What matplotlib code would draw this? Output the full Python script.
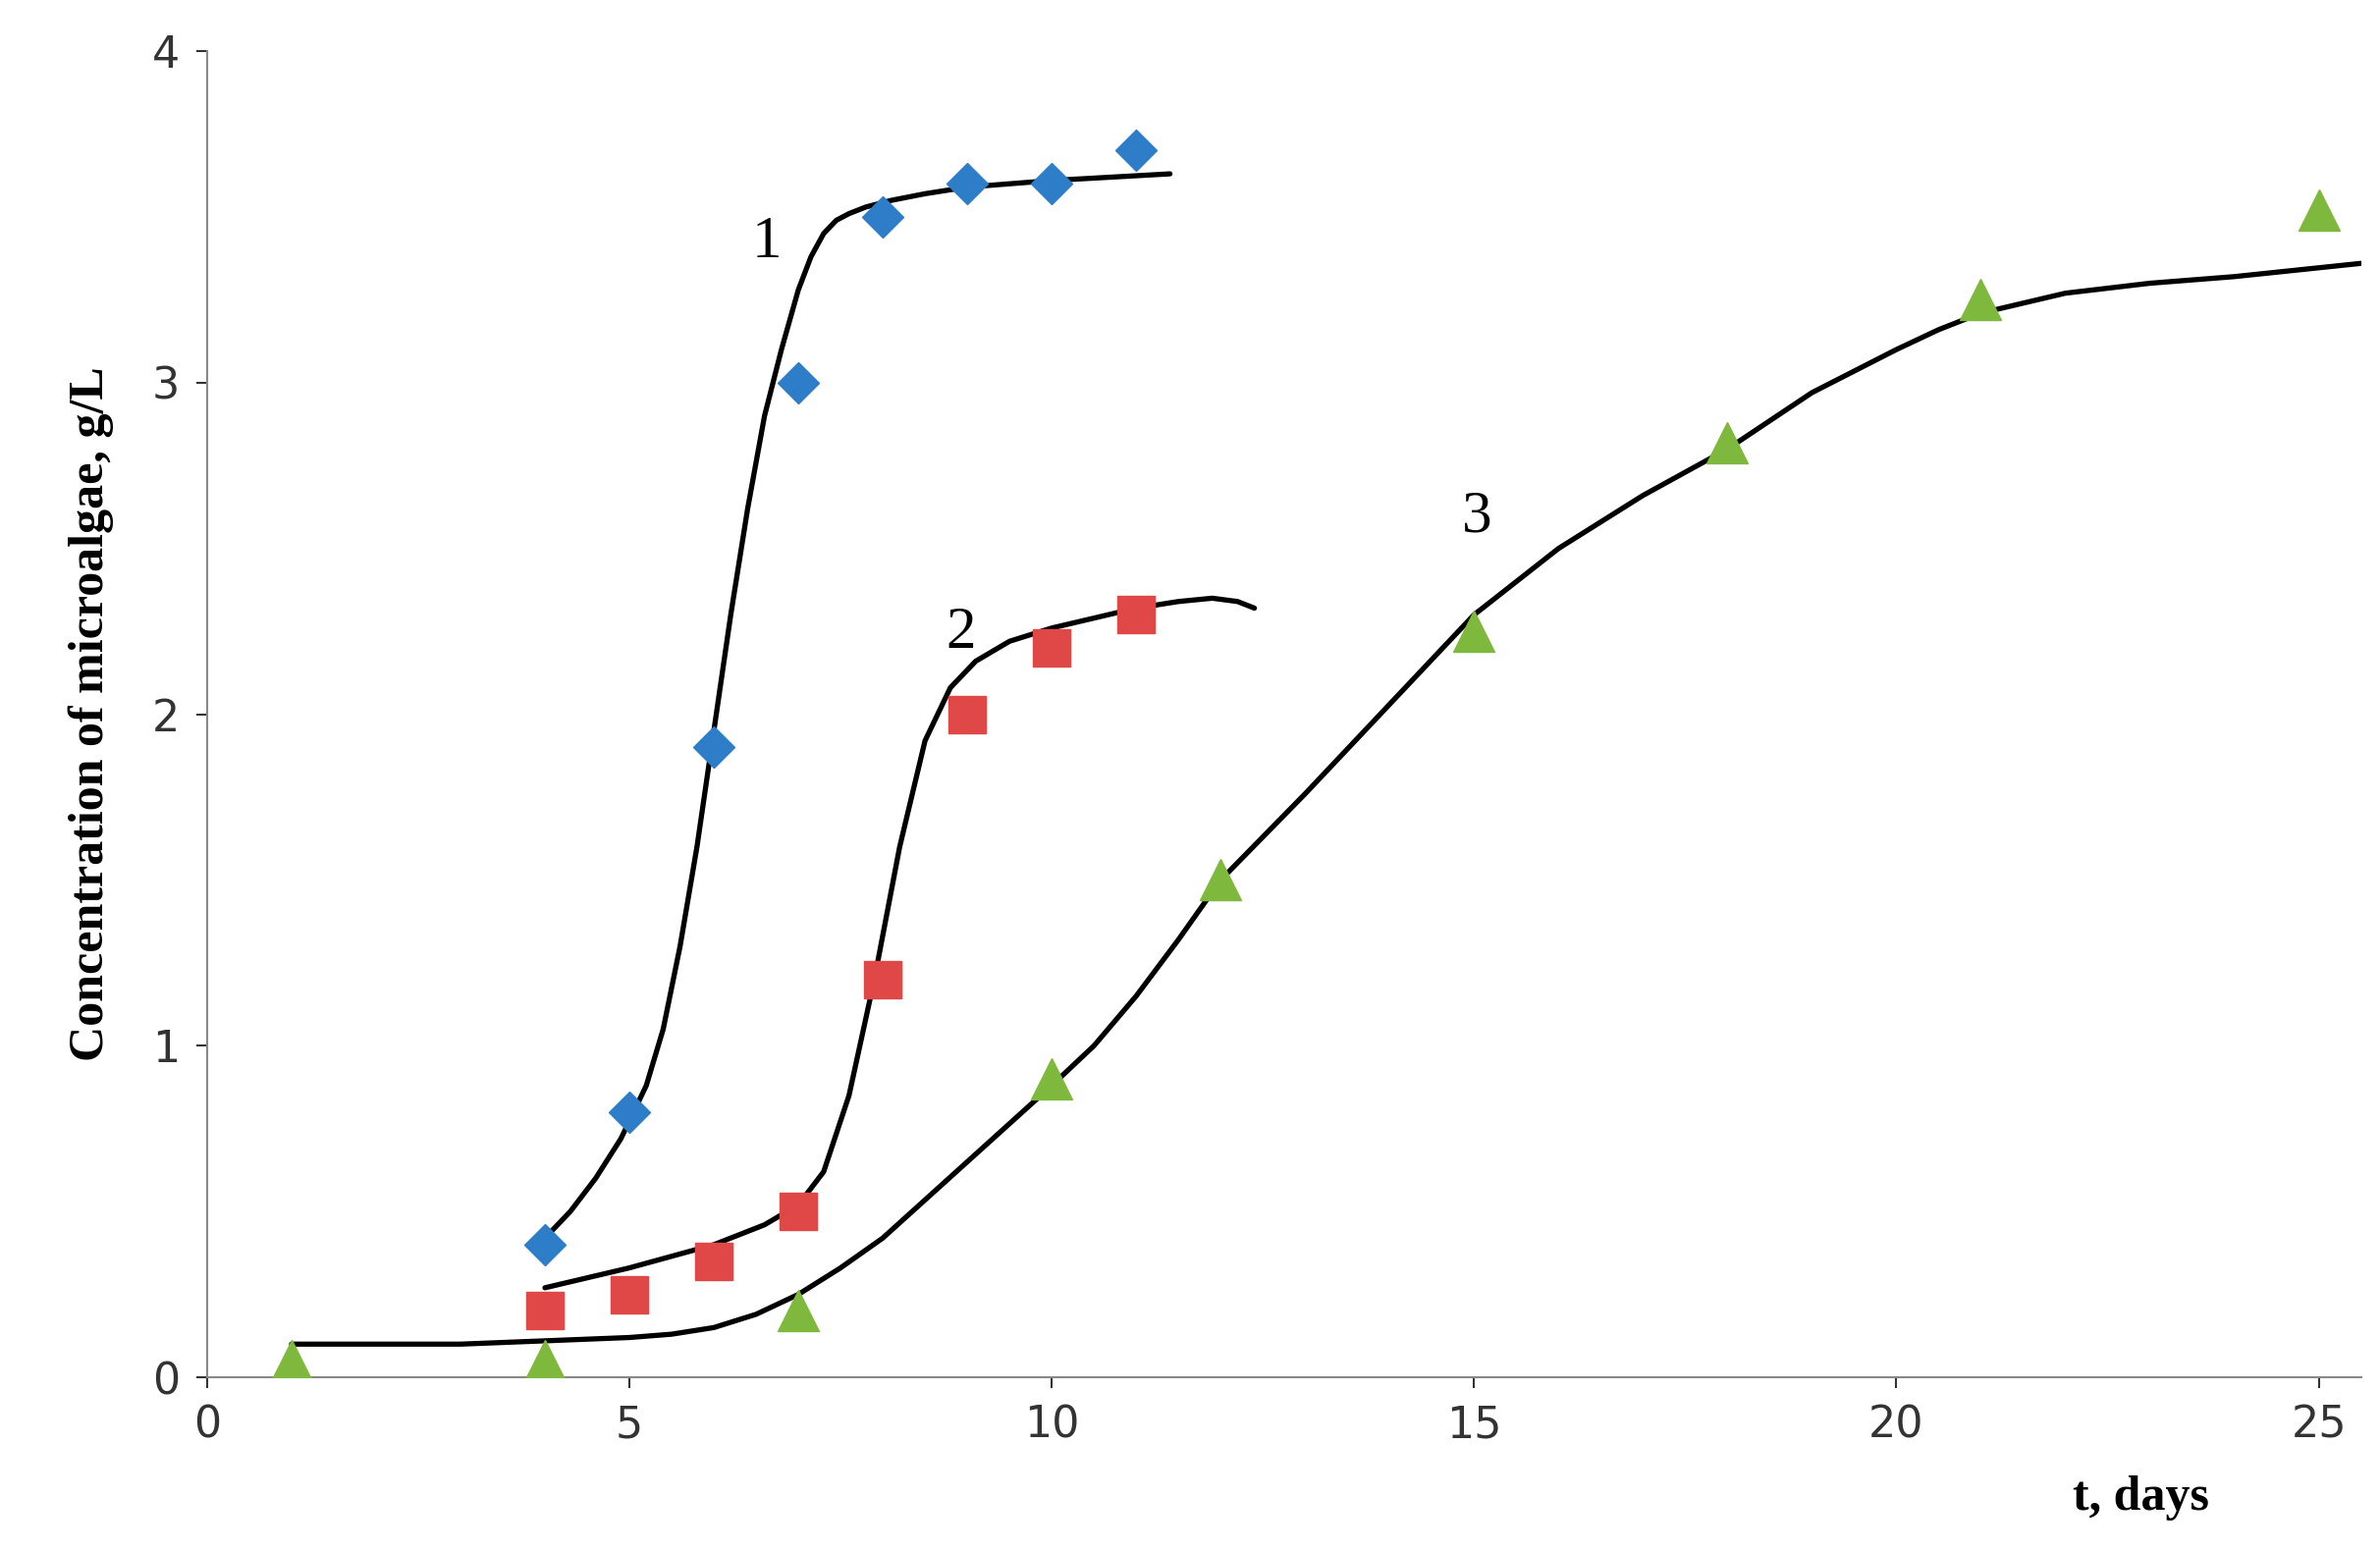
import matplotlib
matplotlib.use("Agg")
import matplotlib.pyplot as plt

x1 = [4, 5, 6, 7, 8, 9, 10, 11]
y1 = [0.4, 0.8, 1.9, 3.0, 3.5, 3.6, 3.6, 3.7]
x2 = [4, 5, 6, 7, 8, 9, 10, 11]
y2 = [0.2, 0.25, 0.35, 0.5, 1.2, 2.0, 2.2, 2.3]
x3 = [1, 4, 7, 10, 12, 15, 18, 21, 25]
y3 = [0.05, 0.05, 0.2, 0.9, 1.5, 2.25, 2.82, 3.25, 3.52]

cx1 = [4, 4.3, 4.6, 4.9, 5.2, 5.4, 5.6, 5.8, 6.0, 6.2, 6.4, 6.6, 6.8, 7.0, 7.15, 7.3, 7.45, 7.6, 7.8, 8.1, 8.5, 9, 10, 11.4]
cy1 = [0.42, 0.5, 0.6, 0.72, 0.88, 1.05, 1.3, 1.6, 1.95, 2.3, 2.62, 2.9, 3.1, 3.28, 3.38, 3.45, 3.49, 3.51, 3.53, 3.55, 3.57, 3.59, 3.61, 3.63]
cx2 = [4, 5, 6, 6.6, 7.0, 7.3, 7.6, 7.9, 8.2, 8.5, 8.8, 9.1, 9.5, 10, 10.5, 11, 11.5, 11.9, 12.2, 12.4]
cy2 = [0.27, 0.33, 0.4, 0.46, 0.52, 0.62, 0.85, 1.2, 1.6, 1.92, 2.08, 2.16, 2.22, 2.26, 2.29, 2.32, 2.34, 2.35, 2.34, 2.32]
cx3 = [1, 3, 4, 5, 5.5, 6, 6.5, 7, 7.5, 8, 9, 10, 10.5, 11, 11.5, 12, 13, 14, 15, 16, 17, 18, 19, 20, 20.5, 21, 22, 23, 24, 25.5]
cy3 = [0.1, 0.1, 0.11, 0.12, 0.13, 0.15, 0.19, 0.25, 0.33, 0.42, 0.65, 0.88, 1.0, 1.15, 1.32, 1.5, 1.76, 2.03, 2.3, 2.5, 2.66, 2.8, 2.97, 3.1, 3.16, 3.21, 3.27, 3.3, 3.32, 3.36]

xticks = [0, 5, 10, 15, 20, 25]
yticks = [0, 1, 2, 3, 4]

fig = plt.figure(figsize=(24.24, 15.8), dpi=100)
ax = fig.add_axes([0.087, 0.112, 0.905, 0.855])
for cx, cy in [(cx1, cy1), (cx2, cy2), (cx3, cy3)]:
    ax.plot(cx, cy, color="black", lw=3.8, zorder=2, solid_capstyle="round", solid_joinstyle="round")
ax.plot(x1, y1, "D", color="#2E7DC8", ms=21, ls="none", zorder=3)
ax.plot(x2, y2, "s", color="#E04848", ms=28, ls="none", zorder=3)
ax.plot(x3, y3, "^", color="#7EB83C", ms=30, ls="none", zorder=3)

serif = "Liberation Serif"
ax.text(6.45, 3.38, "1", fontsize=44, family=serif)
ax.text(8.75, 2.2, "2", fontsize=44, family=serif)
ax.text(14.85, 2.55, "3", fontsize=44, family=serif)

ax.set_xlim(0, 25.5)
ax.set_ylim(0, 4)
ax.set_xticks(xticks)
ax.set_yticks(yticks)
ax.tick_params(labelsize=32, colors="#333333", length=8, width=1.5, pad=12)
for s in ["top", "right"]:
    ax.spines[s].set_visible(False)
for s in ["left", "bottom"]:
    ax.spines[s].set_color("#888888")
    ax.spines[s].set_linewidth(1.5)
ax.set_ylabel("Concentration of microalgae, g/L", fontsize=36, fontweight="bold", family=serif, labelpad=28)
ax.text(22.9, -0.365, "t, days", fontsize=36, fontweight="bold", family=serif, ha="center", va="center")
fig.savefig("out.png", dpi=100)
